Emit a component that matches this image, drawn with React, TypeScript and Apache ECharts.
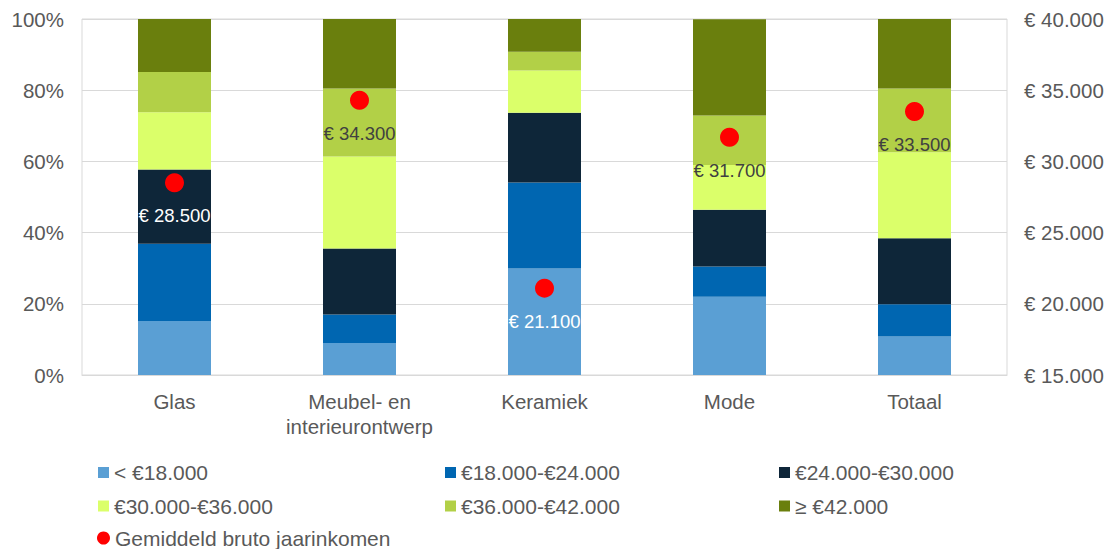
import React, { useEffect, useRef } from "react";
import * as echarts from "echarts";

const categories = ["Glas", "Meubel- en\ninterieurontwerp", "Keramiek", "Mode", "Totaal"];
const seriesNames = [
  "< €18.000",
  "€18.000-€24.000",
  "€24.000-€30.000",
  "€30.000-€36.000",
  "€36.000-€42.000",
  "≥ €42.000",
];
const lt18 = [15.2, 9.0, 29.9, 22.0, 10.8];
const b18_24 = [21.7, 8.0, 24.2, 8.5, 9.1];
const b24_30 = [20.8, 18.5, 19.6, 15.9, 18.5];
const b30_36 = [16.1, 25.9, 11.8, 12.6, 24.2];
const b36_42 = [11.3, 19.1, 5.3, 13.9, 17.9];
const ge42 = [14.9, 19.5, 9.2, 27.0, 19.5];
const avgName = "Gemiddeld bruto jaarinkomen";
const avgIncome = [28500, 34300, 21100, 31700, 33500];
const avgLabelColors = ["#ffffff", "#404040", "#ffffff", "#404040", "#404040"];
const leftTicks = { min: 0, max: 100, interval: 20 };
const rightTicks = { min: 15000, max: 40000, interval: 5000 };
const colors = ["#5a9fd4", "#0066b1", "#0e2639", "#dbff6a", "#b2d047", "#6a7f0d"];

const FONT = "'Liberation Sans', Arial, sans-serif";
const TXT = "#595959";

const euro = (v: number) => "€ " + String(v).replace(/\B(?=(\d{3})+(?!\d))/g, ".");

export default function App() {
  const ref = useRef<HTMLDivElement>(null);
  useEffect(() => {
    if (!ref.current) return;
    const chart = echarts.init(ref.current, undefined, { renderer: "svg" });
    const barData = [lt18, b18_24, b24_30, b30_36, b36_42, ge42];
    const colX = [98, 445, 779];
    const rowY = [472.5, 506, 538];
    const legendNames = [...seriesNames, avgName];
    const legends = legendNames.map((name, i) => {
      const isAvg = name === avgName;
      const col = isAvg ? 0 : i % 3;
      const row = isAvg ? 2 : Math.floor(i / 3);
      const size = isAvg ? 13 : 11;
      return {
        data: [{ name, icon: isAvg ? "circle" : "rect", itemStyle: { opacity: 1 } }],
        left: colX[col] - (isAvg ? 1 : 0),
        top: rowY[row] - 11,
        padding: 0,
        itemWidth: size,
        itemHeight: size,
        textStyle: { fontSize: 21, color: TXT, fontFamily: FONT, lineHeight: 22 },
        selectedMode: false,
      };
    });
    chart.setOption({
      animation: false,
      textStyle: { fontFamily: FONT },
      color: [...colors, "#ff0000"],
      grid: {
        left: 82,
        right: 108,
        top: 19,
        bottom: 174,
        show: true,
        borderColor: "#d9d9d9",
        borderWidth: 1,
      },
      legend: legends,
      xAxis: {
        type: "category",
        data: categories,
        axisLine: { show: true, lineStyle: { color: "#d9d9d9", width: 1 } },
        axisTick: { show: false },
        axisLabel: {
          fontSize: 20.5,
          color: TXT,
          fontFamily: FONT,
          lineHeight: 25,
          margin: 14,
          interval: 0,
        },
      },
      yAxis: [
        {
          type: "value",
          ...leftTicks,
          axisLine: { show: false },
          axisTick: { show: false },
          splitLine: { lineStyle: { color: "#d9d9d9", width: 1 } },
          axisLabel: {
            formatter: "{value}%",
            fontSize: 20.5,
            color: TXT,
            fontFamily: FONT,
            margin: 18,
          },
        },
        {
          type: "value",
          ...rightTicks,
          position: "right",
          axisLine: { show: false },
          axisTick: { show: false },
          splitLine: { show: false },
          axisLabel: {
            formatter: (v: number) => euro(v),
            fontSize: 20.5,
            color: TXT,
            fontFamily: FONT,
            margin: 17,
          },
        },
      ],
      series: [
        ...barData.map((d, i) => ({
          name: seriesNames[i],
          type: "bar",
          stack: "total",
          data: d,
          barWidth: 73,
          itemStyle: { color: colors[i] },
          yAxisIndex: 0,
        })),
        {
          name: avgName,
          type: "scatter",
          yAxisIndex: 1,
          symbol: "circle",
          symbolSize: 19,
          itemStyle: { color: "#ff0000", opacity: 1 },
          z: 10,
          data: avgIncome.map((v, i) => ({
            value: v,
            label: { color: avgLabelColors[i] },
          })),
          label: {
            show: true,
            position: "bottom",
            distance: 14,
            fontSize: 18.5,
            fontFamily: FONT,
            opacity: 1,
            formatter: (p: any) => euro(p.value),
          },
        },
      ],
    });
    return () => chart.dispose();
  }, []);
  return (
    <div
      ref={ref}
      style={{ position: "absolute", left: 0, top: 0, width: 1115, height: 549, background: "#fff" }}
    />
  );
}
